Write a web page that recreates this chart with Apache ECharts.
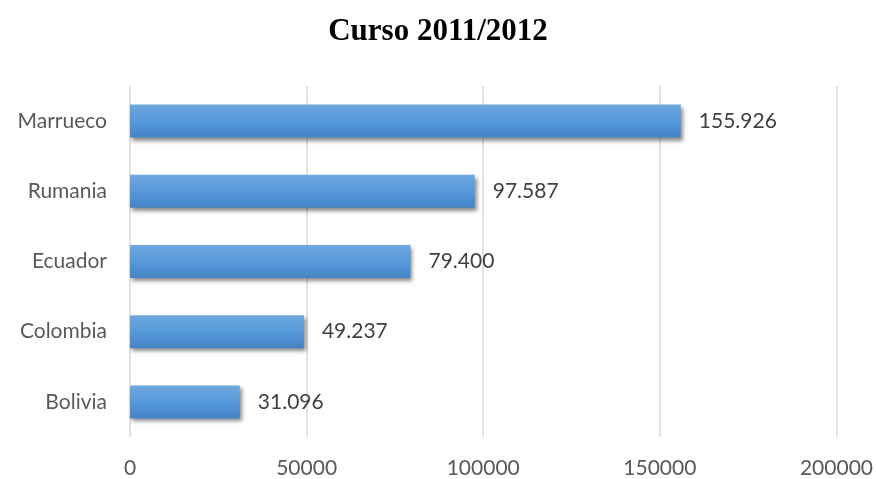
<!DOCTYPE html>
<html>
<head>
<meta charset="utf-8">
<script src="https://cdn.jsdelivr.net/npm/echarts@6/dist/echarts.min.js"></script>
<style>
  html, body { margin: 0; padding: 0; background: #fff; }
  #chart { width: 876px; height: 479px; }
</style>
</head>
<body>
<div id="chart"></div>
<script>
// Alumnado extranjero por país de origen, curso 2011/2012
const countries = ['Marrueco', 'Rumania', 'Ecuador', 'Colombia', 'Bolivia'];
const students = [155926, 97587, 79400, 49237, 31096];
const xTicks = { min: 0, max: 200000, interval: 50000 };

const fmt = v => String(v).replace(/\B(?=(\d{3})+(?!\d))/g, '.');
const labelFont = 'Lato, "Open Sans", sans-serif';

const chart = echarts.init(document.getElementById('chart'), null, { renderer: 'canvas' });
chart.setOption({
  animation: false,
  backgroundColor: '#ffffff',
  title: {
    text: 'Curso 2011/2012',
    left: 'center',
    top: 11,
    textStyle: {
      fontFamily: '"Liberation Serif", "Times New Roman", serif',
      fontWeight: 'bold',
      fontSize: 31,
      color: '#000'
    }
  },
  grid: { left: 130, right: 38, top: 86, bottom: 39 },
  xAxis: {
    type: 'value',
    min: xTicks.min,
    max: xTicks.max,
    interval: xTicks.interval,
    axisLine: { show: false },
    axisTick: { show: false },
    splitLine: { show: true, lineStyle: { color: '#d9d9d9', width: 1.5 } },
    axisLabel: {
      margin: 21,
      formatter: v => String(v),
      fontFamily: labelFont,
      fontSize: 21,
      color: '#595959'
    }
  },
  yAxis: {
    type: 'category',
    inverse: true,
    data: countries,
    axisLine: { show: false },
    axisTick: { show: false },
    axisLabel: {
      margin: 23,
      fontFamily: labelFont,
      fontSize: 21,
      color: '#595959'
    }
  },
  series: [{
    type: 'bar',
    data: students,
    barWidth: '47%',
    itemStyle: {
      color: new echarts.graphic.LinearGradient(0, 0, 0, 1, [
        { offset: 0, color: '#6fa8de' },
        { offset: 0.5, color: '#5599da' },
        { offset: 1, color: '#4483c6' }
      ]),
      shadowColor: 'rgba(0,0,0,0.45)',
      shadowBlur: 4,
      shadowOffsetX: 2,
      shadowOffsetY: 3
    },
    label: {
      show: true,
      position: 'right',
      distance: 18,
      formatter: p => fmt(p.value),
      fontFamily: labelFont,
      fontSize: 21,
      color: '#404040'
    }
  }]
});
</script>
</body>
</html>
